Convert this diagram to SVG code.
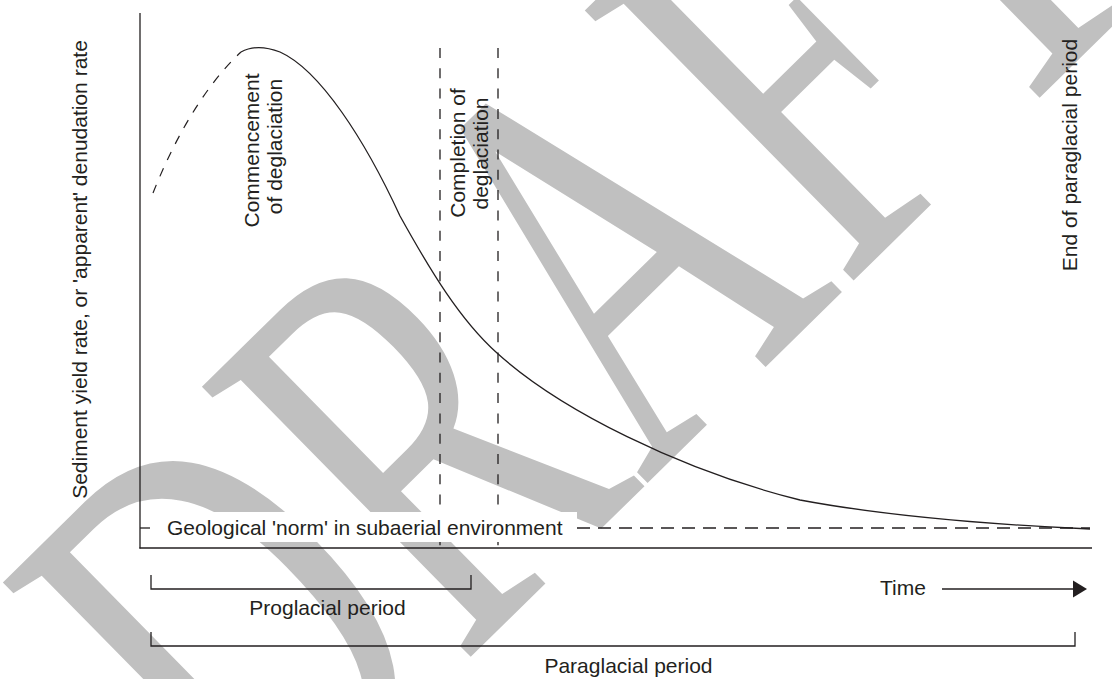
<svg xmlns="http://www.w3.org/2000/svg" width="1112" height="679" viewBox="0 0 1112 679">
<style>
.t{font-family:"Liberation Sans",Arial,sans-serif;font-size:21px;fill:#231f20}
.m{text-anchor:middle}
.ln{stroke:#231f20;stroke-width:1.3;fill:none}
.vd{stroke:#231f20;stroke-width:1.3;fill:none;stroke-dasharray:10 10.3}
.hd{stroke:#231f20;stroke-width:1.3;fill:none;stroke-dasharray:13 8}
.cd{stroke:#231f20;stroke-width:1.2;fill:none;stroke-dasharray:9 9}
.wm{font-family:"Liberation Serif","Times New Roman",serif;fill:#c0c0c0}
</style>
<rect width="1112" height="679" fill="#fff"/>
<g id="watermark">
<text class="wm" font-size="582" transform="translate(262,862) rotate(-44.5) scale(0.664,1)">DRAFT</text>
</g>
<g id="connectors">
<line id="commencement-line" class="vd" x1="440" y1="48" x2="440" y2="548"/>
<line id="completion-line" class="vd" x1="498" y1="48" x2="498" y2="548"/>
<line id="norm-line" class="hd" x1="577" y1="528" x2="1090" y2="528"/>
<path id="pre-peak-curve" class="cd" d="M153,193 C170,150 200,90 241,52"/>
<path id="yield-curve" class="ln" d="M241,52 C250,47 262,45 280,52 C320,70 365,140 400,216 C430,270 460,320 497,353 C560,410 680,470 800,500 C880,515 980,524 1090,529"/>
</g>
<rect id="norm-label-bg" x="150" y="512" width="427" height="30" fill="#fff"/>
<g id="axes">
<line class="ln" x1="140" y1="13" x2="140" y2="548.6"/>
<line class="ln" x1="139.4" y1="548" x2="1092" y2="548"/>
<line class="ln" x1="140" y1="528" x2="150" y2="528"/>
</g>
<g id="y-axis-label"><text class="t m" transform="translate(87,269.5) rotate(-90)">Sediment yield rate, or 'apparent' denudation rate</text></g>
<g id="commencement"><text class="t m" transform="translate(259,150.5) rotate(-90)">Commencement</text><text class="t m" transform="translate(282,146.5) rotate(-90)">of deglaciation</text></g>
<g id="completion"><text class="t m" transform="translate(464.5,153) rotate(-90)">Completion of</text><text class="t m" transform="translate(488,153.5) rotate(-90)">deglaciation</text></g>
<g id="end-paraglacial"><text class="t m" transform="translate(1077,155) rotate(-90)">End of paraglacial period</text></g>
<g id="norm-label"><text class="t" x="167" y="535">Geological 'norm' in subaerial environment</text></g>
<g id="proglacial">
<path class="ln" d="M151,575 V589 H471 V575"/>
<text class="t m" x="327.5" y="615">Proglacial period</text>
</g>
<g id="time-arrow">
<text class="t" x="880" y="595">Time</text>
<line class="ln" x1="942" y1="589" x2="1075" y2="589"/>
<polygon points="1073,580.5 1087,589 1073,597.5" fill="#231f20"/>
</g>
<g id="paraglacial">
<path class="ln" d="M151,632 V646 H1075 V632"/>
<text class="t m" x="628.5" y="673">Paraglacial period</text>
</g>
</svg>
